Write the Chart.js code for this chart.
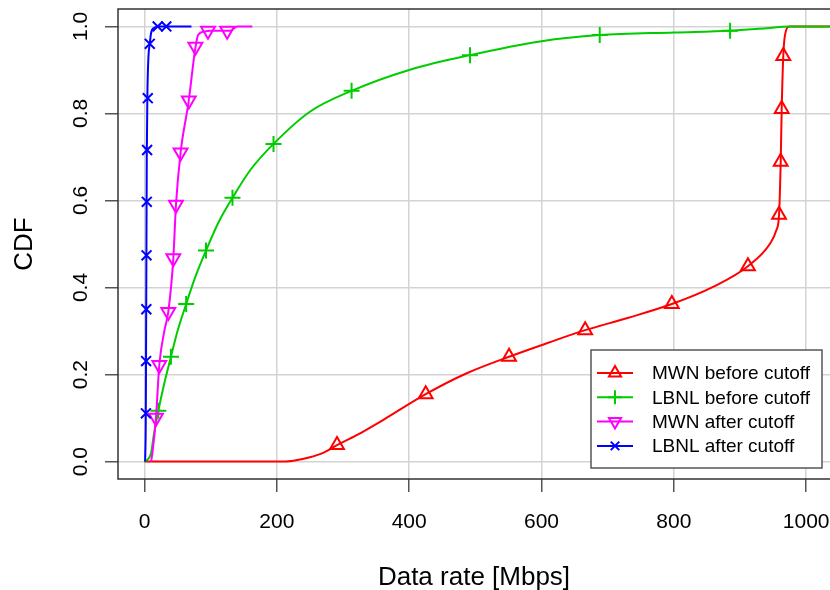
<!DOCTYPE html>
<html>
<head>
<meta charset="utf-8">
<script src="https://cdn.jsdelivr.net/npm/chart.js@4.4.1/dist/chart.umd.min.js"></script>
<style>
  html, body { margin: 0; padding: 0; background: #fff; }
  #wrap { width: 830px; height: 590px; }
</style>
</head>
<body>
<div id="wrap"><canvas id="cdfChart" width="830" height="590"></canvas></div>
<script>
// Axis ticks and titles
const xTicks = [0, 200, 400, 600, 800, 1000];
const yTicks = [0, 0.2, 0.4, 0.6, 0.8, 1.0];
const xTitle = 'Data rate [Mbps]';
const yTitle = 'CDF';

const seriesNames = ['MWN before cutoff', 'LBNL before cutoff', 'MWN after cutoff', 'LBNL after cutoff'];

// MWN before cutoff (curve + markers)
const mwnBeforeX = [0, 200, 225, 250, 270, 291, 320, 361, 425, 487, 551, 610, 666, 730, 797, 860, 912, 945, 955, 959, 961.5, 963, 965.4, 968, 975, 1040];
const mwnBeforeY = [0, 0, 0.002, 0.01, 0.02, 0.038, 0.06, 0.096, 0.155, 0.203, 0.241, 0.273, 0.302, 0.33, 0.362, 0.402, 0.449, 0.5, 0.532, 0.567, 0.689, 0.81, 0.932, 0.98, 1.0, 1.0];
const mwnBeforeMarkX = [291, 425, 551, 666, 797, 912, 959, 961.5, 963, 965.4];
const mwnBeforeMarkY = [0.038, 0.155, 0.241, 0.302, 0.362, 0.449, 0.567, 0.689, 0.81, 0.932];

// LBNL before cutoff
const lbnlBeforeX = [0, 5, 10, 14, 21, 30, 40, 50, 63, 77, 93, 112, 133, 160, 195, 250, 313, 400, 492, 600, 688, 800, 885, 940, 975, 1040];
const lbnlBeforeY = [0, 0.005, 0.02, 0.06, 0.117, 0.18, 0.241, 0.3, 0.362, 0.425, 0.485, 0.55, 0.606, 0.67, 0.73, 0.804, 0.852, 0.9, 0.934, 0.966, 0.98, 0.986, 0.99, 0.996, 1.0, 1.0];
const lbnlBeforeMarkX = [21, 40, 63, 93, 133, 195, 313, 492, 688, 885];
const lbnlBeforeMarkY = [0.117, 0.241, 0.362, 0.485, 0.606, 0.73, 0.852, 0.934, 0.98, 0.99];

// MWN after cutoff
const mwnAfterX = [10, 12, 17.4, 22.4, 30, 36, 43.6, 47.6, 54.6, 67, 75, 78, 81, 90, 100, 130, 140, 163];
const mwnAfterY = [0, 0.02, 0.101, 0.222, 0.3, 0.344, 0.467, 0.59, 0.71, 0.83, 0.93, 0.96, 0.98, 0.988, 0.99, 0.99, 1.0, 1.0];
const mwnAfterMarkX = [17.4, 22.4, 36, 43.6, 47.6, 54.6, 67, 77, 96, 125];
const mwnAfterMarkY = [0.101, 0.222, 0.344, 0.467, 0.59, 0.71, 0.83, 0.953, 0.99, 0.99];

// LBNL after cutoff
const lbnlAfterX = [1, 2, 2.5, 3, 3.5, 4.5, 6, 8, 10, 15, 20, 71];
const lbnlAfterY = [0, 0.1, 0.3, 0.5, 0.7, 0.85, 0.93, 0.96, 0.985, 0.997, 1.0, 1.0];
const lbnlAfterMarkX = [2.2, 2.5, 2.8, 3.1, 3.5, 4, 5, 8, 20, 33];
const lbnlAfterMarkY = [0.111, 0.231, 0.35, 0.474, 0.597, 0.716, 0.835, 0.96, 1.0, 1.0];

const FONT = '"Liberation Sans", Arial, Helvetica, sans-serif';

const zip = (xs, ys) => xs.map((x, i) => ({ x: x, y: ys[i] }));

const styles = [
    { color: '#ff0000', pointStyle: 'triangle', radius: 8, rotation: 0 },
    { color: '#00cd00', pointStyle: 'cross', radius: 8, rotation: 0 },
    { color: '#ff00ff', pointStyle: 'triangle', radius: 8, rotation: 180 },
    { color: '#0000ff', pointStyle: 'crossRot', radius: 7, rotation: 0 }
];

const curves = [
    [zip(mwnBeforeX, mwnBeforeY), zip(mwnBeforeMarkX, mwnBeforeMarkY)],
    [zip(lbnlBeforeX, lbnlBeforeY), zip(lbnlBeforeMarkX, lbnlBeforeMarkY)],
    [zip(mwnAfterX, mwnAfterY), zip(mwnAfterMarkX, mwnAfterMarkY)],
    [zip(lbnlAfterX, lbnlAfterY), zip(lbnlAfterMarkX, lbnlAfterMarkY)]
];

const datasets = [];
curves.forEach((c, i) => {
    const s = styles[i];
    datasets.push({
        label: seriesNames[i],
        data: c[0],
        showLine: true,
        borderColor: s.color,
        borderWidth: 2,
        pointRadius: 0,
        cubicInterpolationMode: 'monotone',
        order: 10 - i * 2
    });
    datasets.push({
        label: seriesNames[i] + ' markers',
        data: c[1],
        showLine: false,
        pointStyle: s.pointStyle,
        pointRadius: s.radius,
        pointRotation: s.rotation,
        pointBorderWidth: 2,
        pointBorderColor: s.color,
        pointBackgroundColor: 'rgba(0,0,0,0)',
        order: 9 - i * 2
    });
});

// Draws the R-style box, rotated labels, titles and legend
const decorations = {
    id: 'decorations',
    afterDraw(chart) {
        const ctx = chart.ctx;
        const area = chart.chartArea;
        const xs = chart.scales.x, ys = chart.scales.y;
        ctx.save();

        // plot box (right side runs off the canvas)
        ctx.strokeStyle = '#333';
        ctx.lineWidth = 1.5;
        ctx.strokeRect(area.left, area.top, chart.width + 10 - area.left, area.bottom - area.top);

        ctx.fillStyle = '#000';
        ctx.font = '21px ' + FONT;
        ctx.textAlign = 'center';
        ctx.textBaseline = 'middle';
        xTicks.forEach(v => ctx.fillText(String(v), xs.getPixelForValue(v), 522));
        yTicks.forEach(v => {
            ctx.save();
            ctx.translate(81, ys.getPixelForValue(v));
            ctx.rotate(-Math.PI / 2);
            ctx.fillText(v.toFixed(1), 0, 0);
            ctx.restore();
        });

        ctx.font = '26px ' + FONT;
        ctx.fillText(xTitle, 474, 578);
        ctx.save();
        ctx.translate(25, (area.top + area.bottom) / 2);
        ctx.rotate(-Math.PI / 2);
        ctx.fillText(yTitle, 0, 0);
        ctx.restore();

        // legend
        const lx = 591, ly = 350, lw = 231, lh = 118;
        ctx.fillStyle = '#fff';
        ctx.fillRect(lx, ly, lw, lh);
        ctx.strokeStyle = '#555';
        ctx.lineWidth = 1.5;
        ctx.strokeRect(lx, ly, lw, lh);
        ctx.font = '19px ' + FONT;
        ctx.textAlign = 'left';
        seriesNames.forEach((name, i) => {
            const s = styles[i];
            const y = ly + 23 + i * 24.3;
            ctx.strokeStyle = s.color;
            ctx.lineWidth = 2;
            ctx.beginPath();
            ctx.moveTo(lx + 6, y);
            ctx.lineTo(lx + 42, y);
            ctx.stroke();
            ctx.fillStyle = 'rgba(0,0,0,0)';
            Chart.helpers.drawPoint(ctx, {
                pointStyle: s.pointStyle,
                radius: s.radius - 1,
                rotation: s.rotation,
                borderWidth: 2
            }, lx + 24, y);
            ctx.fillStyle = '#000';
            ctx.fillText(name, lx + 61, y + 1);
        });
        ctx.restore();
    }
};

new Chart(document.getElementById('cdfChart').getContext('2d'), {
    type: 'scatter',
    data: { datasets: datasets },
    options: {
        responsive: false,
        animation: false,
        layout: { autoPadding: false, padding: { top: 9, left: 0, right: 0, bottom: 0 } },
        plugins: { legend: { display: false }, tooltip: { enabled: false } },
        scales: {
            x: {
                type: 'linear',
                min: -40,
                max: 1036,
                afterBuildTicks: s => { s.ticks = xTicks.map(v => ({ value: v })); },
                afterFit: s => { s.height = 111; s.paddingLeft = 0; s.paddingRight = 0; },
                ticks: { display: false },
                border: { display: false },
                grid: { color: '#d3d3d3', lineWidth: 1.5, drawTicks: true, tickLength: 13, tickColor: '#555', tickWidth: 1.5 }
            },
            y: {
                type: 'linear',
                min: -0.04,
                max: 1.04,
                afterBuildTicks: s => { s.ticks = yTicks.map(v => ({ value: v })); },
                afterFit: s => { s.width = 118; s.paddingTop = 0; s.paddingBottom = 0; },
                ticks: { display: false },
                border: { display: false },
                grid: { color: '#d3d3d3', lineWidth: 1.5, drawTicks: true, tickLength: 13, tickColor: '#555', tickWidth: 1.5 }
            }
        }
    },
    plugins: [decorations]
});
</script>
</body>
</html>
